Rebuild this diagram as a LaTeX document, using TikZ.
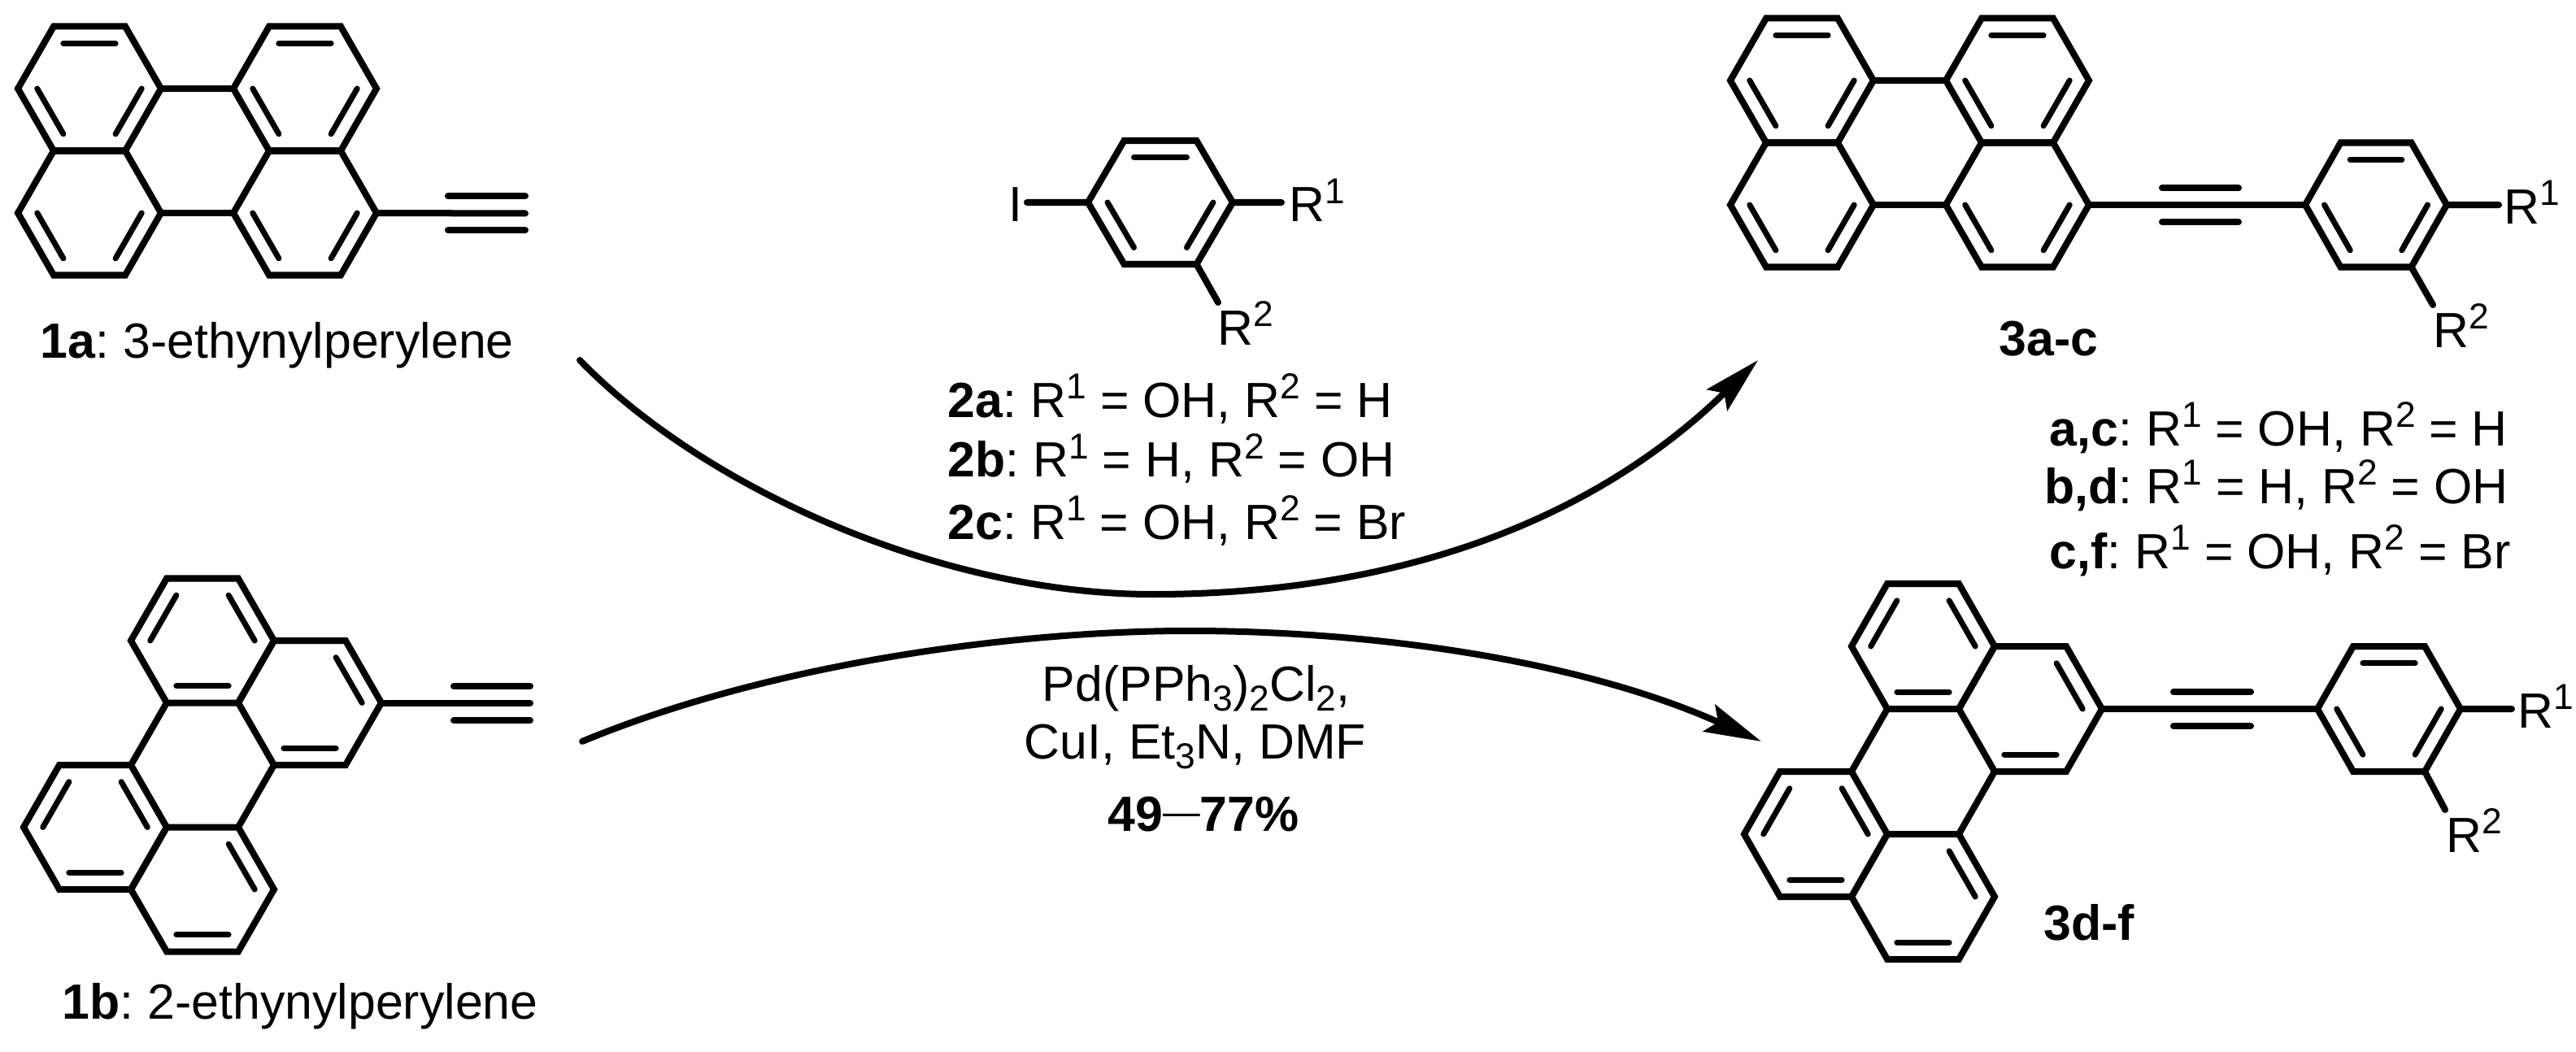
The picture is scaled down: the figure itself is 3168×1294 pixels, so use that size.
\documentclass[tikz,border=0pt]{standalone}
\usepackage{fontspec}
\setmainfont{Liberation Sans}
\usetikzlibrary{calc,arrows.meta}
\tikzset{
	bond/.style={line width=.8mm, line cap=round, line join=miter},
	innerbond/.style={line width=.7mm, line cap=round},
	triplebar/.style={line width=.8mm, line cap=round},
	rxnarrow/.style={line width=.8mm, line cap=round, -{Stealth[length=7mm,width=3.6mm,inset=1.2mm]}},
	lab/.style={anchor=base west, inner sep=0pt, font=\fontsize{17.3}{20}\selectfont},
	labc/.style={lab, anchor=base}
}
\frenchspacing
% R with its number, and small indices
\newcommand{\supn}[1]{\raisebox{.37em}{\fontsize{12.6}{12}\selectfont #1}}
\newcommand{\subn}[1]{\raisebox{-.2em}{\fontsize{12.6}{12}\selectfont #1}}
% name, cx, cy, rx, ry, edges with an inner line
\newcommand{\hexring}[6]{%
	\coordinate (#1) at ({#2},{#3});
	\coordinate (#1-0) at ({#2+#4},{#3});
	\coordinate (#1-1) at ({#2+#4/2},{#3-#5});
	\coordinate (#1-2) at ({#2-#4/2},{#3-#5});
	\coordinate (#1-3) at ({#2-#4},{#3});
	\coordinate (#1-4) at ({#2-#4/2},{#3+#5});
	\coordinate (#1-5) at ({#2+#4/2},{#3+#5});
	\draw[bond] (#1-0)--(#1-1)--(#1-2)--(#1-3)--(#1-4)--(#1-5)--cycle;
	\foreach \e [evaluate=\e as \f using {int(mod(\e+1,6))}] in {#6}
		\draw[innerbond] ($(#1-\e)!.27!(#1)$)--($(#1-\f)!.27!(#1)$);
}
% 3-substituted skeleton: prefix, x, y
\newcommand{\peryA}[3]{%
	\hexring{#1A}{#2}{#3}{88}{76.5}{1,3,5}
	\hexring{#1B}{#2}{#3+153}{88}{76.5}{3,5}
	\hexring{#1C}{#2+265}{#3}{88}{76.5}{1,3,5}
	\hexring{#1D}{#2+265}{#3+153}{88}{76.5}{3,5}
	\draw[bond] (#1A-0)--(#1C-3) (#1B-0)--(#1D-3);
}
% 2-substituted skeleton: prefix, x, y, ry
\newcommand{\peryB}[4]{%
	\hexring{#1T}{#2}{#3}{88}{#4}{0,2,4}
	\hexring{#1R}{#2+132}{#3+#4}{88}{#4}{0,4}
	\hexring{#1L}{#2-132}{#3+3*#4}{88}{#4}{0,2,4}
	\hexring{#1B}{#2}{#3+4*#4}{88}{#4}{0,4}
	\draw[bond] (#1T-4)--(#1L-1) (#1R-4)--(#1B-1);
}
\begin{document}
\begin{tikzpicture}[x=.01cm,y=-.01cm]
	\useasboundingbox (0,0) rectangle (3168,1294);
	% 1a
	\peryA{a}{110}{109}
	\coordinate (aend) at (646,262.5);
	\draw[bond] (aD-0)--(aend);
	\draw[triplebar] (551,241)--(646,241) (551,283)--(646,283);
	\node[lab] (lab1a) at (49,441) {\textbf{1a}: 3-ethynylperylene};
	% 1b
	\peryB{b}{249}{788}{76.5}
	\coordinate (bend) at (652,864.5);
	\draw[bond] (bR-0)--(bend);
	\draw[triplebar] (558,844)--(652,844) (558,886)--(652,886);
	\node[lab] (lab1b) at (76,1253) {\textbf{1b}: 2-ethynylperylene};
	% 2
	\hexring{p}{1427}{249}{89}{76}{1,3,5}
	\node[lab] (iod) at (1240,273) {I};
	\node[lab] (pr1) at (1585,273) {R\supn{1}};
	\node[lab] (pr2) at (1497,424) {R\supn{2}};
	\coordinate (piod) at (1263,249);
	\coordinate (pone) at (1576,249);
	\coordinate (ptwo) at (1498,372);
	\draw[bond] (p-3)--(piod) (p-0)--(pone) (p-5)--(ptwo);
	\node[lab] (lab2a) at (1165,513) {\textbf{2a}: R\supn{1} = OH, R\supn{2} = H};
	\node[lab] (lab2b) at (1165,587) {\textbf{2b}: R\supn{1} = H, R\supn{2} = OH};
	\node[lab] (lab2c) at (1165,663) {\textbf{2c}: R\supn{1} = OH, R\supn{2} = Br};
	% conditions
	\node[labc] (cat) at (1471,862) {Pd(PPh\subn{3})\subn{2}Cl\subn{2},};
	\node[labc] (base) at (1470,933) {CuI, Et\subn{3}N, DMF};
	\node[labc] (yield) at (1480,1022) {\textbf{49}\raisebox{.8mm}{\fontsize{13}{13}\selectfont —}\textbf{77\%}};
	% 3a-c
	\peryA{c}{2216}{99}
	\hexring{q}{2922}{252}{87}{76.5}{1,3,5}
	\draw[bond] (cD-0)--(q-3);
	\draw[triplebar] (2659,231)--(2753,231) (2659,273)--(2753,273);
	\node[lab] (qr1) at (3079,275) {R\supn{1}};
	\node[lab] (qr2) at (2992,427) {R\supn{2}};
	\coordinate (qone) at (3073,252);
	\coordinate (qtwo) at (2992,375);
	\draw[bond] (q-0)--(qone) (q-5)--(qtwo);
	\node[lab] (lab3a) at (2458,438) {\textbf{3a-c}};
	\node[lab] (laba) at (2520,548) {\textbf{a,c}: R\supn{1} = OH, R\supn{2} = H};
	\node[lab] (labb) at (2514,619) {\textbf{b,d}: R\supn{1} = H, R\supn{2} = OH};
	\node[lab] (labc) at (2520,699) {\textbf{c,f}: R\supn{1} = OH, R\supn{2} = Br};
	% 3d-f
	\peryB{d}{2365}{795}{77}
	\hexring{s}{2938}{872}{88}{77}{1,3,5}
	\draw[bond] (dR-0)--(s-3);
	\draw[triplebar] (2673,851)--(2768,851) (2673,893)--(2768,893);
	\node[lab] (sr1) at (3096,895) {R\supn{1}};
	\node[lab] (sr2) at (3008,1048) {R\supn{2}};
	\coordinate (sone) at (3089,872);
	\coordinate (stwo) at (3007,996);
	\draw[bond] (s-0)--(sone) (s-5)--(stwo);
	\node[lab] (lab3d) at (2513,1156) {\textbf{3d-f}};
	% arrows
	\coordinate (t0) at (713,443);
	\coordinate (t1) at (1418,731);
	\coordinate (t2) at (2162,443);
	\coordinate (u0) at (716,912);
	\coordinate (u1) at (1462,776);
	\coordinate (u2) at (2166,912);
	\draw[rxnarrow] (t0) .. controls (860,595) and (1150,731) .. (t1) .. controls (1720,731) and (1960,640) .. (t2);
	\draw[rxnarrow] (u0) .. controls (950,815) and (1250,776) .. (u1) .. controls (1700,776) and (1950,815) .. (u2);
\end{tikzpicture}
\end{document}
